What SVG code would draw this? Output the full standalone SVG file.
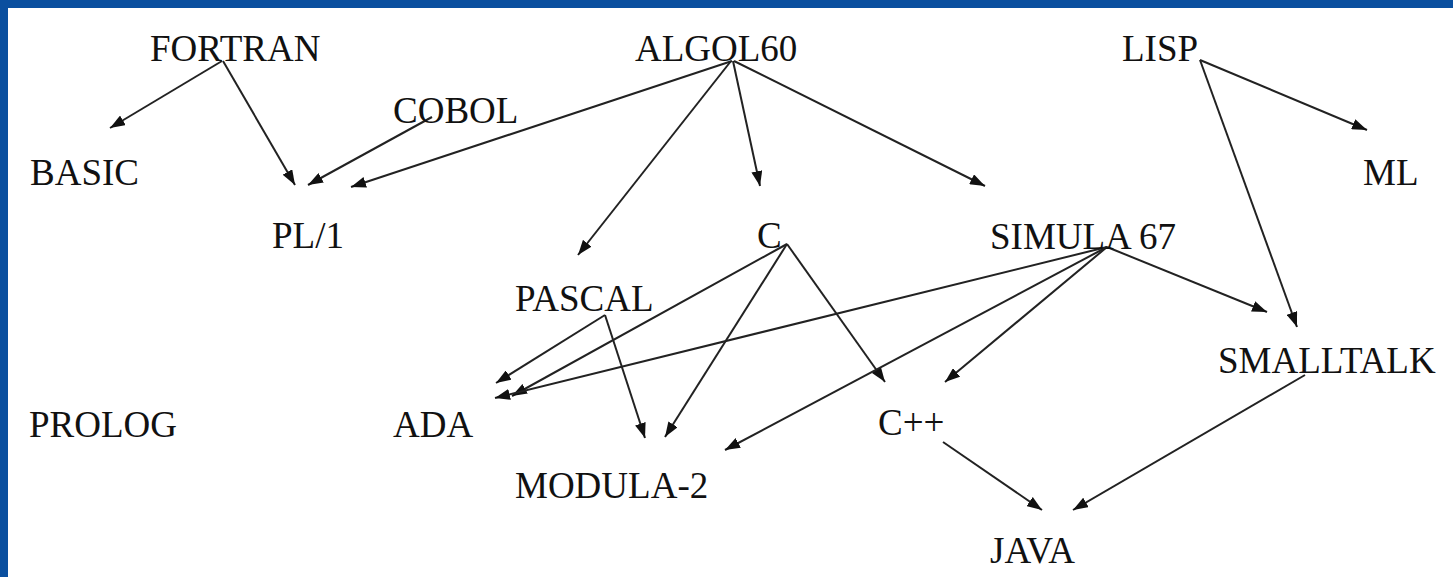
<svg xmlns="http://www.w3.org/2000/svg" width="1453" height="577" viewBox="0 0 1453 577">
<style>
.lbl{font-family:"Liberation Serif","Times New Roman",serif;font-size:37px;fill:#111}
.edge{stroke:#222;stroke-width:2;fill:none;marker-end:url(#arr)}
</style>
<defs>
<marker id="arr" markerUnits="userSpaceOnUse" markerWidth="15" markerHeight="11" refX="15" refY="5.5" orient="auto">
<path d="M0,0 L15,5.5 L0,11 z" fill="#111"/>
</marker>
</defs>
<rect x="0" y="0" width="1453" height="577" fill="#ffffff"/>
<rect x="0" y="0" width="1453" height="8" fill="#0a4f9f"/>
<rect x="0" y="0" width="8" height="577" fill="#0a4f9f"/>
<g id="connectors">
<line class="edge" x1="222" y1="61" x2="110" y2="128"/>
<line class="edge" x1="223" y1="61" x2="295" y2="185"/>
<line class="edge" x1="432" y1="117" x2="308" y2="185"/>
<line class="edge" x1="732" y1="61" x2="351" y2="187"/>
<line class="edge" x1="731" y1="61" x2="578" y2="255"/>
<line class="edge" x1="733" y1="61" x2="760" y2="186"/>
<line class="edge" x1="734" y1="61" x2="985" y2="186"/>
<line class="edge" x1="1200" y1="60" x2="1367" y2="130"/>
<line class="edge" x1="1200" y1="60" x2="1297" y2="327"/>
<line class="edge" x1="605" y1="315" x2="496" y2="383"/>
<line class="edge" x1="605" y1="315" x2="645" y2="438"/>
<line class="edge" x1="787" y1="244" x2="512" y2="396"/>
<line class="edge" x1="787" y1="244" x2="665" y2="437"/>
<line class="edge" x1="787" y1="244" x2="885" y2="382"/>
<line class="edge" x1="1107" y1="247" x2="495" y2="398"/>
<line class="edge" x1="1107" y1="247" x2="725" y2="450"/>
<line class="edge" x1="1107" y1="247" x2="945" y2="382"/>
<line class="edge" x1="1107" y1="247" x2="1267" y2="312"/>
<line class="edge" x1="943" y1="442" x2="1042" y2="510"/>
<line class="edge" x1="1305" y1="375" x2="1073" y2="510"/>
</g>
<g id="fortran"><text class="lbl" x="150" y="61">FORTRAN</text></g>
<g id="algol60"><text class="lbl" x="635" y="61">ALGOL60</text></g>
<g id="lisp"><text class="lbl" x="1122" y="61">LISP</text></g>
<g id="cobol"><text class="lbl" x="393" y="123">COBOL</text></g>
<g id="basic"><text class="lbl" x="30" y="185">BASIC</text></g>
<g id="ml"><text class="lbl" x="1363" y="185">ML</text></g>
<g id="pl1"><text class="lbl" x="272" y="248">PL/1</text></g>
<g id="c"><text class="lbl" x="757" y="248">C</text></g>
<g id="simula67"><text class="lbl" x="990" y="249">SIMULA 67</text></g>
<g id="pascal"><text class="lbl" x="515" y="311">PASCAL</text></g>
<g id="smalltalk"><text class="lbl" x="1218" y="373">SMALLTALK</text></g>
<g id="prolog"><text class="lbl" x="29" y="437">PROLOG</text></g>
<g id="ada"><text class="lbl" x="393" y="437">ADA</text></g>
<g id="cpp"><text class="lbl" x="878" y="435">C++</text></g>
<g id="modula2"><text class="lbl" x="515" y="498">MODULA-2</text></g>
<g id="java"><text class="lbl" x="990" y="563">JAVA</text></g>
</svg>
